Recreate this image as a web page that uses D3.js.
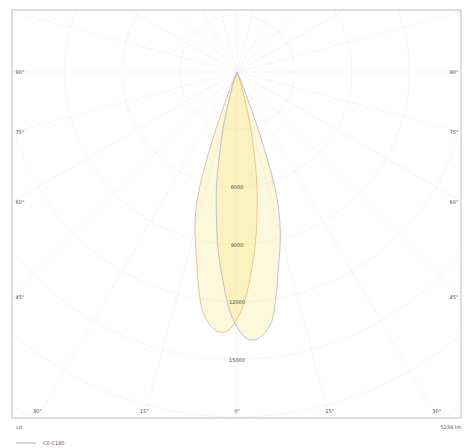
<!DOCTYPE html>
<html>
<head>
<meta charset="utf-8">
<script src="https://cdn.jsdelivr.net/npm/d3@7"></script>
<style>
  body { margin: 0; background: #fff; }
  text { font-family: "DejaVu Sans", sans-serif; }
</style>
</head>
<body>
<div id="chart"></div>
<script>
// gamma angles (deg, 0 = straight down, + = right)
const angles = [-26, -24, -22, -20, -18, -16, -14, -12, -10, -8, -6, -4, -2, 0, 2, 4, 6, 8, 10, 12, 14, 16, 18, 20, 22, 24, 26];
// intensities cd, C0-C180 plane
const planeA = [0, 300, 1200, 3500, 6300, 7900, 9000, 10100, 11500, 12700, 13300, 13600, 13500, 12900, 11900, 10500, 9100, 7500, 6000, 4300, 2800, 1500, 600, 150, 0, 0, 0];
// intensities cd, C90-C270 plane
const planeB = [0, 0, 0, 150, 600, 1550, 2900, 4400, 6200, 7700, 9400, 10800, 12300, 13300, 13900, 14000, 13700, 13100, 11800, 10400, 9300, 8100, 6500, 3600, 1250, 300, 0];
const ringValues = [3000, 6000, 9000, 12000, 15000, 18000, 21000, 24000];
const ringLabels = ["6000", "9000", "12000", "15000"];
const sideAngles = [90, 75, 60, 45];
const bottomAngles = [-30, -15, 0, 15, 30];

const W = 464, H = 448;
const frame = { left: 12, top: 10, right: 461, bottom: 418 };
const ox = 237, oy = 72;

const svg = d3.select('#chart').append('svg')
    .attr('width', W)
    .attr('height', H);

const r = d3.scaleLinear().domain([0, 3000]).range([0, 57.5]);
const rad = d => d * Math.PI / 180;

svg.append('clipPath').attr('id', 'fr')
  .append('rect')
    .attr('x', frame.left).attr('y', frame.top)
    .attr('width', frame.right - frame.left)
    .attr('height', frame.bottom - frame.top);

const g = svg.append('g').attr('clip-path', 'url(#fr)');
const grid = g.append('g').attr('transform', `translate(${ox},${oy})`);

// rings
grid.selectAll('circle').data(ringValues).enter().append('circle')
    .attr('r', d => r(d))
    .attr('fill', 'none')
    .attr('stroke', '#f3f3f3')
    .attr('stroke-width', 0.8);

// radial lines every 15 deg
grid.selectAll('line').data(d3.range(0, 360, 15)).enter().append('line')
    .attr('x1', 0).attr('y1', 0)
    .attr('x2', d => 600 * Math.sin(rad(d)))
    .attr('y2', d => 600 * Math.cos(rad(d)))
    .attr('stroke', '#f3f3f3')
    .attr('stroke-width', 0.8);

// lobes
const lobe = d3.lineRadial()
    .angle(d => Math.PI - rad(d[0]))
    .radius(d => r(d[1]))
    .curve(d3.curveCatmullRom.alpha(0.5));

const lobes = grid.append('g');
[[planeA, '#eab08a'], [planeB, '#a8b2cc']].forEach(([vals, col]) => {
    const pts = angles.map((a, i) => [a, vals[i]]);
    lobes.append('path')
        .attr('d', lobe(pts) + 'Z')
        .attr('fill', 'rgb(248,222,90)')
        .attr('fill-opacity', 0.22)
        .attr('stroke', col)
        .attr('stroke-width', 0.8);
});

// ring labels
grid.selectAll('text.ring').data(ringLabels).enter().append('text')
    .attr('class', 'ring')
    .attr('x', 0)
    .attr('y', d => r(+d) + 2)
    .attr('text-anchor', 'middle')
    .attr('font-size', 5)
    .attr('fill', '#444')
    .text(d => d);

// frame
svg.append('rect')
    .attr('x', frame.left).attr('y', frame.top)
    .attr('width', frame.right - frame.left)
    .attr('height', frame.bottom - frame.top)
    .attr('fill', 'none')
    .attr('stroke', '#c8c8c8')
    .attr('stroke-width', 1.2);

// side angle labels
sideAngles.forEach(a => {
    const y = oy + (ox - frame.left) / Math.tan(rad(a));
    svg.append('text').attr('x', frame.left + 8).attr('y', y + 2)
        .attr('text-anchor', 'middle').attr('font-size', 5).attr('fill', '#444')
        .text(a + '°');
    svg.append('text').attr('x', frame.right - 7).attr('y', y + 2)
        .attr('text-anchor', 'middle').attr('font-size', 5).attr('fill', '#444')
        .text(a + '°');
});

// bottom angle labels
bottomAngles.forEach(a => {
    const x = ox + (frame.bottom - oy) * Math.tan(rad(a));
    svg.append('text').attr('x', x).attr('y', frame.bottom - 5)
        .attr('text-anchor', 'middle').attr('font-size', 5).attr('fill', '#444')
        .text(Math.abs(a) + '°');
});

// footer
svg.append('text').attr('x', 16).attr('y', 429)
    .attr('font-size', 5).attr('fill', '#555').text('cd');
svg.append('text').attr('x', 461).attr('y', 429)
    .attr('text-anchor', 'end').attr('font-size', 5).attr('fill', '#555').text('5234 lm');
svg.append('line').attr('x1', 16).attr('x2', 36).attr('y1', 443).attr('y2', 443)
    .attr('stroke', '#999').attr('stroke-width', 0.8);
svg.append('text').attr('x', 43).attr('y', 445)
    .attr('font-size', 5).attr('fill', '#555').text('C0-C180');
</script>
</body>
</html>
